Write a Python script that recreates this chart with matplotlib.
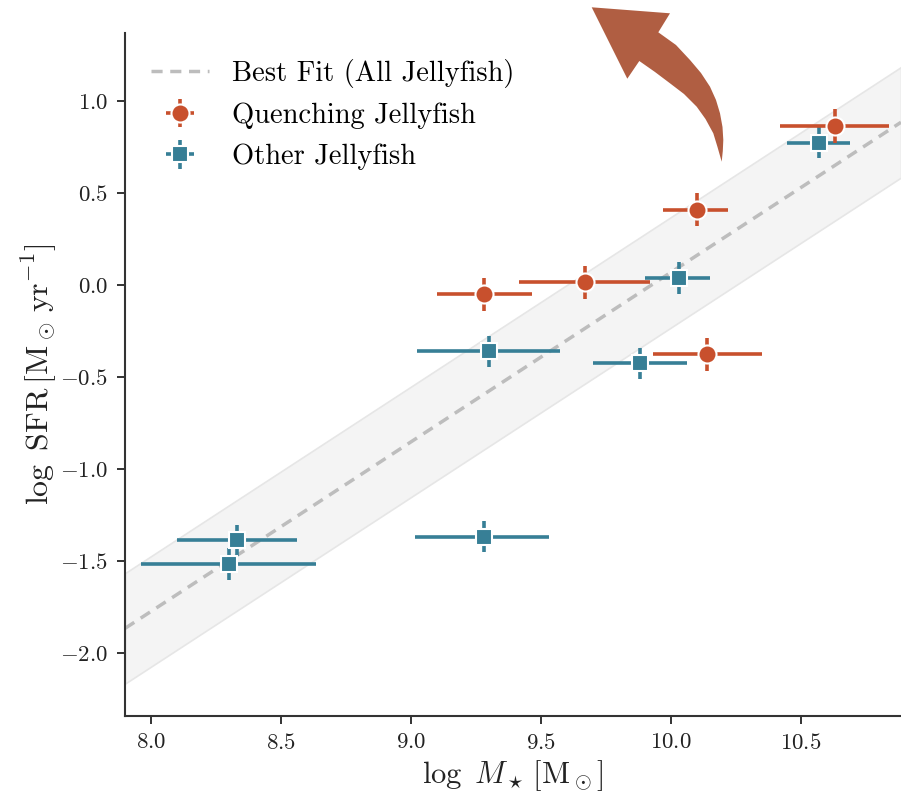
import numpy as np
import matplotlib.pyplot as plt
from matplotlib.patches import Polygon

plt.rcParams['font.family'] = 'serif'
plt.rcParams['font.serif'] = ['cmr10']
plt.rcParams['mathtext.fontset'] = 'cm'
plt.rcParams['axes.formatter.use_mathtext'] = True

# quenching jellyfish
q_mass = [9.28, 9.67, 10.10, 10.63, 10.14]
q_mass_lo = [0.18, 0.255, 0.13, 0.21, 0.21]
q_mass_hi = [0.185, 0.25, 0.12, 0.21, 0.21]
q_sfr = [-0.05, 0.015, 0.41, 0.865, -0.375]
q_sfr_err = [0.09, 0.09, 0.09, 0.09, 0.09]

# other jellyfish
o_mass = [10.57, 10.03, 9.88, 9.30, 9.28, 8.33, 8.30]
o_mass_lo = [0.125, 0.13, 0.18, 0.275, 0.265, 0.23, 0.34]
o_mass_hi = [0.12, 0.12, 0.18, 0.275, 0.25, 0.23, 0.335]
o_sfr = [0.775, 0.04, -0.425, -0.36, -1.365, -1.385, -1.515]
o_sfr_err = [0.085, 0.085, 0.085, 0.085, 0.085, 0.085, 0.085]

# linear fit to all jellyfish, with scatter band
fit_slope = 0.921
fit_intercept = -9.14
fit_scatter = 0.30

orange = '#c8502d'
teal = '#377f96'

fig = plt.figure(figsize=(9.01, 7.97), dpi=100)
ax = fig.add_axes([0.1387, 0.1016, 0.8613, 0.857])

xlim = (7.9, 10.885)
xx = np.linspace(xlim[0], xlim[1], 50)
yy = fit_slope * xx + fit_intercept
ax.fill_between(xx, yy - fit_scatter, yy + fit_scatter, facecolor='#f4f4f4',
                edgecolor='#e6e6e6', linewidth=1.2, zorder=1)
ax.plot(xx, yy, ls=(0, (3.2, 2.2)), color='#bdbdbd', lw=2.5, zorder=2,
        label='Best Fit (All Jellyfish)')

ax.errorbar(o_mass, o_sfr, xerr=[o_mass_lo, o_mass_hi], yerr=o_sfr_err,
            fmt='s', color=teal, ms=12, mec='white', mew=1.5, elinewidth=2.6,
            capsize=0, zorder=3, label='Other Jellyfish')
ax.errorbar(q_mass, q_sfr, xerr=[q_mass_lo, q_mass_hi], yerr=q_sfr_err,
            fmt='o', color=orange, ms=13, mec='white', mew=1.5, elinewidth=2.6,
            capsize=0, zorder=4, label='Quenching Jellyfish')

ax.set_xlim(*xlim)
ax.set_ylim(-2.34, 1.37)
ax.set_xticks([8.0, 8.5, 9.0, 9.5, 10.0, 10.5])
ax.set_yticks([-2.0, -1.5, -1.0, -0.5, 0.0, 0.5, 1.0])
ax.xaxis.set_major_formatter(plt.FormatStrFormatter('$%.1f$'))
ax.yaxis.set_major_formatter(plt.FuncFormatter(lambda v, p: '$%.1f$' % v if v != 0 else '$0.0$'))

for s in ['top', 'right']:
    ax.spines[s].set_visible(False)
for s in ['left', 'bottom']:
    ax.spines[s].set_color('#333333')
    ax.spines[s].set_linewidth(1.5)
ax.tick_params(direction='out', length=6, width=1.4, color='#333333',
               labelsize=16.5, pad=6, labelcolor='#222222')

ax.set_xlabel(r'$\log\ M_\star\,[\mathrm{M}_\odot]$', fontsize=22, color='#222222',
              labelpad=4)
ax.set_ylabel(r'$\log\ \mathrm{SFR}\,[\mathrm{M}_\odot\,\mathrm{yr}^{-1}]$', fontsize=23,
              color='#222222', labelpad=1)

h, l = ax.get_legend_handles_labels()
order = [0, 2, 1]
ax.legend([h[i] for i in order], [l[i] for i in order], loc='upper left',
          frameon=False, fontsize=20.5, handlelength=2.05, handletextpad=0.8,
          borderaxespad=0.5, labelspacing=0.52, bbox_to_anchor=(0.0, 1.0))

# curved arrow pointing up-left
W, H = 901, 797
arrow_px = [(591.7, 7.3), (670.0, 13.3), (658.3, 32.3), (676, 45), (690, 60),
            (701, 73), (710, 86.7), (716, 100), (720, 113.3), (722.5, 127),
            (723.3, 140), (722.8, 151), (721.7, 161.7), (717.5, 147),
            (713.3, 133.3), (705.5, 119), (696.7, 106.7), (684, 94),
            (670, 83.3), (655, 72), (639.3, 61), (627.3, 78.7)]
arrow_fig = [(x / W, 1 - y / H) for x, y in arrow_px]
fig.patches.append(Polygon(arrow_fig, closed=True, transform=fig.transFigure,
                           facecolor='#b05e42', edgecolor='none', zorder=10))

fig.savefig('out.png', dpi=100)
